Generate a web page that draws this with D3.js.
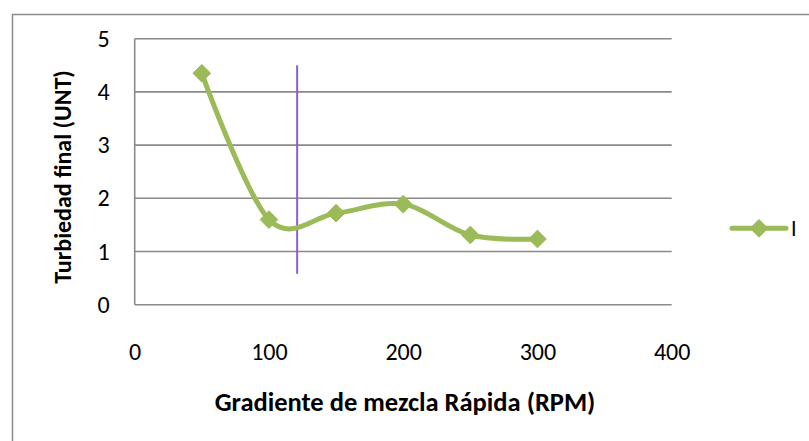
<!DOCTYPE html>
<html>
<head>
<meta charset="utf-8">
<script src="https://cdn.jsdelivr.net/npm/d3@7"></script>
<style>
  html, body { margin: 0; padding: 0; background: #ffffff; }
  svg { display: block; }
  text { font-family: Carlito, Lato, "Liberation Sans", sans-serif; fill: #000; }
</style>
</head>
<body>
<svg id="chart" width="809" height="441"></svg>
<script>
// Velocidad de mezcla rápida (RPM) y turbiedad final medida (UNT)
const rpm = [50, 100, 150, 200, 250, 300];
const turbiedad = [4.35, 1.6, 1.72, 1.89, 1.31, 1.235];
const serieNombre = "I";
const xTicks = [0, 100, 200, 300, 400];
const yTicks = [0, 1, 2, 3, 4, 5];
const marcaVertical = 121;           // línea de referencia (RPM)
const marcaRango = [0.58, 4.5];       // extremo inferior y superior (UNT)

const svg = d3.select("#chart");
const W = 809, H = 441;

const mLeft = 134.7, mRight = 671.7, mTop = 38.7, mBottom = 304.7;
const x = d3.scaleLinear().domain([0, 400]).range([mLeft, mRight]);
const y = d3.scaleLinear().domain([0, 5]).range([mBottom, mTop]);

// marco exterior del gráfico
svg.append("path")
  .attr("d", `M12.5,${H + 2} L12.5,14.5 L${W + 2},14.5`)
  .attr("fill", "none").attr("stroke", "#8c8c8c").attr("stroke-width", 1.5);

// cuadrícula horizontal
svg.append("g").selectAll("line").data(yTicks).join("line")
  .attr("x1", mLeft).attr("x2", mRight)
  .attr("y1", d => y(d)).attr("y2", d => y(d))
  .attr("stroke", "#8a8a8a").attr("stroke-width", 1.6);

// eje vertical
svg.append("line")
  .attr("x1", mLeft).attr("x2", mLeft).attr("y1", mTop).attr("y2", mBottom)
  .attr("stroke", "#8a8a8a").attr("stroke-width", 1.6);

const fmt = d3.format("d");

// etiquetas del eje Y
const yAxis = d3.axisLeft(y).tickValues(yTicks).tickFormat(fmt).tickSize(0).tickPadding(25);
const gy = svg.append("g").attr("transform", `translate(${mLeft},0)`).call(yAxis);
gy.select(".domain").remove();
gy.attr("font-family", null).attr("font-size", null);
gy.selectAll("text").style("font-size", "24px");

// etiquetas del eje X
const xAxis = d3.axisBottom(x).tickValues(xTicks).tickFormat(fmt).tickSize(0).tickPadding(38);
const gx = svg.append("g").attr("transform", `translate(0,${mBottom})`).call(xAxis);
gx.select(".domain").remove();
gx.attr("font-family", null).attr("font-size", null);
gx.selectAll("text").style("font-size", "24px");

// títulos de ejes
svg.append("text")
  .attr("x", 405).attr("y", 411)
  .attr("text-anchor", "middle")
  .style("font-size", "26.5px").style("font-weight", "bold")
  .text("Gradiente de mezcla Rápida (RPM)");

svg.append("text")
  .attr("transform", `translate(71,177) rotate(-90)`)
  .attr("text-anchor", "middle")
  .style("font-size", "24px").style("font-weight", "bold")
  .text("Turbiedad final (UNT)");

// línea vertical de referencia
svg.append("line")
  .attr("x1", x(marcaVertical)).attr("x2", x(marcaVertical))
  .attr("y1", y(marcaRango[1])).attr("y2", y(marcaRango[0]))
  .attr("stroke", "#8d5fcc").attr("stroke-width", 2);

const verde = "#9bbb59";
const datos = rpm.map((r, i) => ({ r, t: turbiedad[i] }));

// serie suavizada
const linea = d3.line()
  .x(d => x(d.r)).y(d => y(d.t))
  .curve(d3.curveCardinal.tension(0));

svg.append("path")
  .datum(datos)
  .attr("d", linea)
  .attr("fill", "none")
  .attr("stroke", verde).attr("stroke-width", 5)
  .attr("stroke-linecap", "round").attr("stroke-linejoin", "round");

// marcadores en rombo
const rombo = d3.symbol().type(d3.symbolDiamond2).size(200);
svg.append("g").selectAll("path").data(datos).join("path")
  .attr("transform", d => `translate(${x(d.r)},${y(d.t)})`)
  .attr("d", rombo)
  .attr("fill", verde).attr("stroke", verde).attr("stroke-width", 1);

// leyenda
const ly = 228.3;
svg.append("line")
  .attr("x1", 732).attr("x2", 786).attr("y1", ly).attr("y2", ly)
  .attr("stroke", verde).attr("stroke-width", 5).attr("stroke-linecap", "round");
svg.append("path")
  .attr("transform", `translate(759,${ly})`)
  .attr("d", rombo)
  .attr("fill", verde).attr("stroke", verde).attr("stroke-width", 1);
svg.append("text")
  .attr("x", 791).attr("y", ly + 8)
  .style("font-size", "22px")
  .text(serieNombre);
</script>
</body>
</html>
